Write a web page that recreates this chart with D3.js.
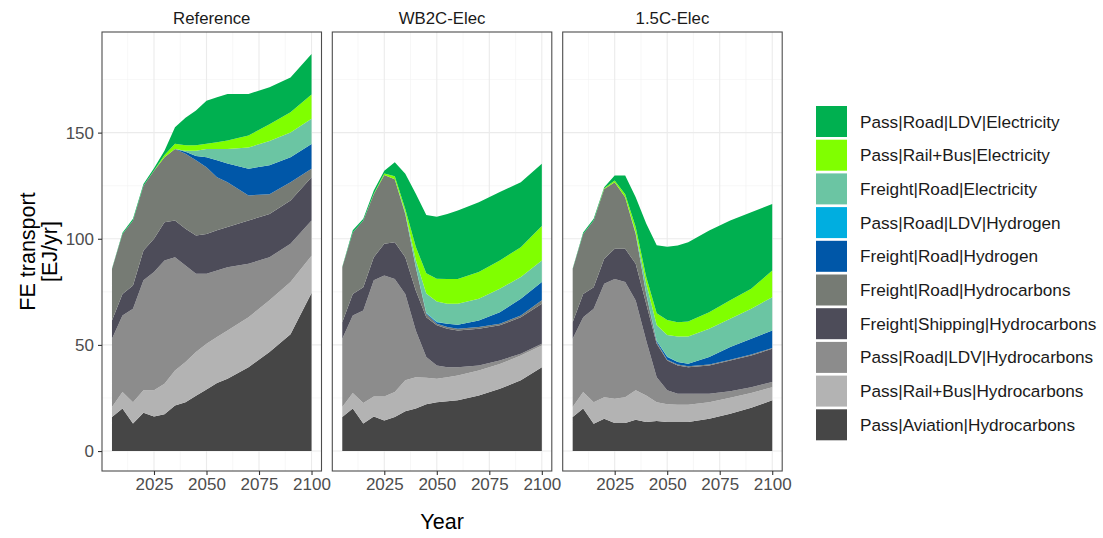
<!DOCTYPE html>
<html>
<head>
<meta charset="utf-8">
<script src="https://cdn.jsdelivr.net/npm/d3@7"></script>
<style>
  html, body { margin: 0; padding: 0; background: #ffffff; }
  svg { display: block; font-family: "Liberation Sans", Arial, sans-serif; }
</style>
</head>
<body>
<svg id="chart" width="1103" height="538"></svg>
<script>
// ---------------- DATA ----------------
const years = [2005, 2010, 2015, 2020, 2025, 2030, 2035, 2040, 2045, 2050, 2055, 2060, 2070, 2080, 2090, 2100];
const scenarios = ["Reference", "WB2C-Elec", "1.5C-Elec"];
// stacking order: bottom -> top (legend shows it top -> bottom)
const seriesNames = [
  "Pass|Aviation|Hydrocarbons",
  "Pass|Rail+Bus|Hydrocarbons",
  "Pass|Road|LDV|Hydrocarbons",
  "Freight|Shipping|Hydrocarbons",
  "Freight|Road|Hydrocarbons",
  "Freight|Road|Hydrogen",
  "Pass|Road|LDV|Hydrogen",
  "Freight|Road|Electricity",
  "Pass|Rail+Bus|Electricity",
  "Pass|Road|LDV|Electricity"
];
const seriesColors = ["#464646", "#b3b3b3", "#8c8c8c", "#4d4c59", "#767b74", "#0057a8", "#00aee0", "#6bc5a3", "#80ff00", "#00b050"];

// EJ/yr per series (same order as seriesNames), one row per series
const referenceValues = [
  [16, 20, 13, 18, 16.3, 17.3, 21.5, 23, 26, 29, 32, 34, 39.5, 46.6, 55, 74.4],
  [4.7, 7.8, 10, 10.6, 12.3, 14.4, 16.5, 19, 20.6, 21.5, 21.7, 22.8, 23.5, 24.4, 24.6, 17.6],
  [32.2, 36.1, 44, 51.8, 55.7, 58.1, 53.3, 45.4, 36.9, 33, 31.3, 29.8, 25.2, 20.3, 18, 16.6],
  [8.6, 10.1, 11, 14.1, 15.7, 18, 17.3, 17.3, 18, 18.8, 19, 18.9, 20.4, 20.4, 20.4, 20.4],
  [24.3, 28.3, 30.6, 30.5, 32, 30.6, 33.7, 35.3, 35.5, 31.4, 25, 21.1, 11.8, 9.3, 8.6, 4],
  [0, 0, 0, 0, 0, 0, 0, 1, 2, 4.7, 8, 8.9, 12.6, 13.6, 11.8, 11.6],
  [0, 0, 0, 0, 0, 0, 0, 0, 0, 0, 0, 0, 0, 0, 0, 0],
  [0, 0, 0, 0, 0, 0, 0, 0.5, 2.5, 3.9, 5.3, 6.8, 10, 11.4, 11.6, 11.9],
  [0, 0, 0, 0, 0.2, 1.1, 2.4, 2.5, 2.5, 2.4, 3.2, 4, 5.6, 8, 9.6, 11.5],
  [0.2, 0.5, 0.8, 0.8, 1, 2, 7.8, 13, 16.4, 20.3, 21.2, 21.9, 19.6, 17.4, 16.4, 19]
];
const wb2cValues = [
  [16, 20, 13, 16.3, 14.4, 16, 18.8, 20, 22, 23, 23.5, 23.9, 26.2, 29.3, 33.3, 39.5],
  [4.7, 7.3, 9.6, 9.4, 11.3, 11.8, 14.5, 14.8, 12.5, 11, 11.3, 11.7, 11.8, 11.7, 11.7, 10.2],
  [32.2, 36.6, 43.6, 54.7, 57, 53.2, 40.7, 22, 9.8, 6.3, 4.7, 3.9, 2.3, 1.7, 0.8, 0.8],
  [7.8, 10.1, 11, 10.9, 14.9, 17.4, 17.3, 18.8, 18.7, 18.9, 18.1, 17.3, 17.3, 16.5, 17.2, 18.9],
  [25.9, 29, 31.4, 29.7, 32.4, 29.6, 20.4, 11, 1.7, 0.8, 0.8, 0.8, 0.8, 0.8, 0.9, 1.6],
  [0, 0, 0, 0, 0, 0, 0, 0, 0.2, 0.7, 1.6, 1.9, 3.1, 5.4, 7.8, 8.6],
  [0, 0, 0, 0, 0, 0, 0, 0.2, 0.2, 0.2, 0, 0, 0, 0, 0, 0],
  [0, 0, 0, 0, 0, 0, 0.8, 3.2, 9.1, 9.5, 9.4, 9.9, 10.2, 11, 10.3, 10.2],
  [0, 0, 0, 0.2, 0.8, 1.5, 1.5, 6.2, 9.5, 10.8, 11.6, 11.6, 12.6, 13.4, 14, 16.2],
  [0.2, 1, 0.8, 1.5, 1.2, 6.5, 16.6, 25, 27.5, 29.2, 30.7, 32.3, 32.9, 32.2, 30.6, 29.3]
];
const c15Values = [
  [16, 20, 12.9, 15.2, 13.2, 13.2, 14.8, 13.7, 14.1, 13.7, 13.7, 13.7, 15.2, 17.6, 20.4, 23.9],
  [4.7, 7.8, 10.1, 10.2, 11.4, 12.2, 13.8, 12.5, 8.9, 8.3, 8.1, 8.1, 7.8, 7.5, 6.9, 6.2],
  [32.2, 35.2, 44, 53.4, 56.5, 54.2, 42.3, 25.9, 11.8, 6.6, 5.2, 5.2, 4, 3.1, 2.8, 2.4],
  [7.8, 11, 10.2, 11.8, 14.2, 15.7, 17.3, 17.3, 15.7, 14.1, 13.3, 12.5, 13.3, 14.5, 14.9, 15.7],
  [25.1, 28.3, 31.4, 32.9, 31.3, 24.3, 14.1, 4.6, 0.8, 0.3, 0.5, 0.5, 0.5, 0.3, 0.5, 0.3],
  [0, 0, 0, 0, 0, 0, 0, 0, 0.5, 1.3, 1.1, 1.1, 3.5, 6, 7.4, 8.3],
  [0, 0, 0, 0, 0, 0, 0, 0.2, 0.2, 0.2, 0, 0, 0, 0, 0, 0],
  [0, 0, 0, 0, 0, 0, 0.7, 4.8, 7.4, 10.2, 12.1, 12.9, 13.3, 13.3, 14.1, 15.7],
  [0, 0, 0, 0.3, 0.9, 1.4, 2.5, 3.1, 5.5, 7, 6.7, 7, 7.8, 8.7, 9.4, 12.5],
  [0.2, 0.7, 0.8, 0.5, 2.3, 8.8, 14.1, 25.1, 32.1, 34.5, 36.1, 37.4, 38.5, 37.6, 36.1, 31.4]
];
const scenarioValues = [referenceValues, wb2cValues, c15Values];

const xTicks = [2025, 2050, 2075, 2100];
const yTicks = [0, 50, 100, 150];
const yLabelLines = ["FE transport", "[EJ/yr]"];
const xLabel = "Year";

// ---------------- LAYOUT ----------------
const svg = d3.select("#chart");
const panelTop = 32, panelBottom = 471;
const panelW = 219.5;
const panelLefts = [102, 332.3, 562.7];
const fontTick = 17, fontStrip = 16.8, fontTitle = 21.5, fontLegend = 17.2;
const tickCol = "#4d4d4d";

const y = d3.scaleLinear().domain([-9.4, 197.4]).range([panelBottom, panelTop]);

scenarios.forEach((scen, si) => {
  const left = panelLefts[si];
  const x = d3.scaleLinear().domain([2000.25, 2104.75]).range([left, left + panelW]);
  const g = svg.append("g");

  // grid: minor
  const xMinor = [2012.5, 2037.5, 2062.5, 2087.5];
  const yMinor = [25, 75, 125, 175];
  g.selectAll(".vminor").data(xMinor).join("line")
    .attr("x1", d => x(d)).attr("x2", d => x(d))
    .attr("y1", panelTop).attr("y2", panelBottom)
    .attr("stroke", "#f2f2f2").attr("stroke-width", 0.6);
  g.selectAll(".hminor").data(yMinor).join("line")
    .attr("x1", left).attr("x2", left + panelW)
    .attr("y1", d => y(d)).attr("y2", d => y(d))
    .attr("stroke", "#f2f2f2").attr("stroke-width", 0.6);
  // grid: major
  g.selectAll(".vmajor").data(xTicks).join("line")
    .attr("x1", d => x(d)).attr("x2", d => x(d))
    .attr("y1", panelTop).attr("y2", panelBottom)
    .attr("stroke", "#ebebeb").attr("stroke-width", 1.1);
  g.selectAll(".hmajor").data(yTicks).join("line")
    .attr("x1", left).attr("x2", left + panelW)
    .attr("y1", d => y(d)).attr("y2", d => y(d))
    .attr("stroke", "#ebebeb").attr("stroke-width", 1.1);

  // stacked areas
  const vals = scenarioValues[si];
  const rows = years.map((yr, i) => {
    const r = { year: yr };
    seriesNames.forEach((s, k) => { r[s] = vals[k][i]; });
    return r;
  });
  const stack = d3.stack().keys(seriesNames)(rows);
  const area = d3.area()
    .x(d => x(d.data.year))
    .y0(d => y(d[0]))
    .y1(d => y(d[1]));
  g.selectAll(".layer").data(stack).join("path")
    .attr("d", area)
    .attr("fill", (d, k) => seriesColors[k])
    .attr("stroke", "none");

  // border
  g.append("rect").attr("x", left).attr("y", panelTop)
    .attr("width", panelW).attr("height", panelBottom - panelTop)
    .attr("fill", "none").attr("stroke", "#4d4d4d").attr("stroke-width", 1.1);

  // x axis
  const xa = d3.axisBottom(x).tickValues(xTicks).tickSize(4).tickPadding(3).tickFormat(d3.format("d"));
  const xg = svg.append("g").attr("transform", `translate(0,${panelBottom})`).call(xa);
  xg.select(".domain").remove();
  xg.selectAll(".tick line").attr("stroke", "#333333").attr("stroke-width", 1.1);
  xg.selectAll(".tick text").attr("fill", tickCol).attr("font-size", fontTick)
    .attr("font-family", "'Liberation Sans', Arial, sans-serif");

  // y axis only on first panel
  if (si === 0) {
    const ya = d3.axisLeft(y).tickValues(yTicks).tickSize(4).tickPadding(4);
    const yg = svg.append("g").attr("transform", `translate(${left},0)`).call(ya);
    yg.select(".domain").remove();
    yg.selectAll(".tick line").attr("stroke", "#333333").attr("stroke-width", 1.1);
    yg.selectAll(".tick text").attr("fill", tickCol).attr("font-size", fontTick)
      .attr("font-family", "'Liberation Sans', Arial, sans-serif");
  }

  // strip title
  svg.append("text").attr("x", left + panelW / 2).attr("y", 24)
    .attr("text-anchor", "middle").attr("font-size", fontStrip).attr("fill", "#1a1a1a")
    .text(scen);
});

// axis titles
svg.append("text").attr("x", (panelLefts[0] + panelLefts[2] + panelW) / 2).attr("y", 529)
  .attr("text-anchor", "middle").attr("font-size", fontTitle).attr("fill", "#000")
  .text(xLabel);
const yt = svg.append("text")
  .attr("transform", `translate(36,${(panelTop + panelBottom) / 2}) rotate(-90)`)
  .attr("text-anchor", "middle").attr("font-size", fontTitle).attr("fill", "#000");
yt.selectAll("tspan").data(yLabelLines).join("tspan")
  .attr("x", 0).attr("dy", (d, i) => i === 0 ? "-0.05em" : "1.05em")
  .text(d => d);

// legend (top -> bottom is reverse stacking order)
const legendItems = seriesNames.map((s, k) => ({ name: s, color: seriesColors[k] })).reverse();
const lg = svg.append("g");
const keyX = 816, keyY0 = 106, keyW = 31, keyH = 31, pitch = 33.7;
legendItems.forEach((it, i) => {
  const yy = keyY0 + i * pitch;
  lg.append("rect").attr("x", keyX).attr("y", yy).attr("width", keyW).attr("height", keyH)
    .attr("fill", it.color);
  lg.append("text").attr("x", 860).attr("y", yy + keyH / 2).attr("dy", "0.35em")
    .attr("font-size", fontLegend).attr("fill", "#1a1a1a").text(it.name);
});
</script>
</body>
</html>
